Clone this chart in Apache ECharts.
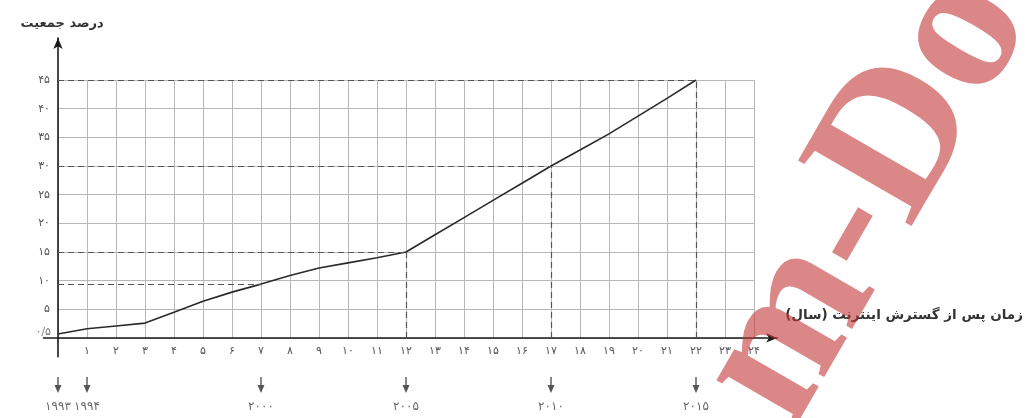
<!DOCTYPE html>
<html>
<head>
<meta charset="utf-8">
<script src="https://cdn.jsdelivr.net/npm/echarts@6/dist/echarts.min.js"></script>
<style>html,body{margin:0;padding:0;background:#fff}#c{width:1030px;height:418px}</style>
</head>
<body>
<div id="c"></div>
<script>
// ---- data ----
const xValues = [0,1,2,3,4,5,6,7,8,9,10,11,12,13,14,15,16,17,18,19,20,21,22];
const percentValues = [0.7,1.6,2.1,2.6,4.5,6.4,8.0,9.4,10.9,12.2,13.1,14.0,15.0,18.0,21.0,24.0,27.0,30.0,32.8,35.6,38.7,41.8,45.0];
const xTickLabels = ['۰','۱','۲','۳','۴','۵','۶','۷','۸','۹','۱۰','۱۱','۱۲','۱۳','۱۴','۱۵','۱۶','۱۷','۱۸','۱۹','۲۰','۲۱','۲۲','۲۳','۲۴'];
const yTickValues = [5,10,15,20,25,30,35,40,45];
const yTickLabels = ['۵','۱۰','۱۵','۲۰','۲۵','۳۰','۳۵','۴۰','۴۵'];
const startLabelValue = 0.5;
const startLabelText = '۰/۵';
// guide lines
const guideX = [7, 12, 17, 22];
const guideY = [9.4, 15, 30, 45];
const guideVertical = [false, true, true, true];
const markerX = [0, 1, 7, 12, 17, 22];
const markerYears = ['۱۹۹۳','۱۹۹۴','۲۰۰۰','۲۰۰۵','۲۰۱۰','۲۰۱۵'];
const xAxisTitle = 'زمان پس از گسترش اینترنت (سال)';
const yAxisTitle = 'درصد جمعیت';

const FONT = '"DejaVu Sans", sans-serif';
const chart = echarts.init(document.getElementById('c'), null, {renderer: 'canvas'});

const guideLines = [];
guideX.forEach((gx, i) => {
  guideLines.push([{coord: [0, guideY[i]]}, {coord: [gx, guideY[i]]}]);
  if (guideVertical[i]) guideLines.push([{coord: [gx, 0]}, {coord: [gx, guideY[i]]}]);
});

const yLabelMap = {};
yTickValues.forEach((v, i) => { yLabelMap[v] = yTickLabels[i]; });

const option = {
  backgroundColor: '#fff',
  animation: false,
  grid: [
    {left: 58, top: 80, width: 696, height: 258, outerBoundsMode: 'none'},
    {left: 43.5, top: 38, width: 733.7, height: 318.8, outerBoundsMode: 'none'},
    {left: 58, top: 370, width: 696, height: 30, outerBoundsMode: 'none'}
  ],
  xAxis: [
    {type: 'value', gridIndex: 0, min: 0, max: 24, interval: 1,
     axisLine: {show: false}, axisTick: {show: false},
     splitLine: {show: true, lineStyle: {color: '#b8b8b8', width: 1}},
     axisLabel: {show: true, margin: 8, color: '#555', fontSize: 11, fontFamily: FONT,
       formatter: v => xTickLabels[Math.round(v)] || ''}},
    {type: 'value', gridIndex: 1, min: -0.5, max: 24.8,
     axisLine: {show: true, onZero: true, symbol: ['none', 'arrow'], symbolSize: [7, 11],
       lineStyle: {color: '#1a1a1a', width: 1.6}},
     axisTick: {show: false}, axisLabel: {show: false}, splitLine: {show: false},
     name: xAxisTitle, nameLocation: 'end', nameGap: 8,
     nameTextStyle: {fontFamily: FONT, fontSize: 13.5, fontWeight: 'bold', color: '#333',
       verticalAlign: 'bottom', padding: [0, 0, 15, 0]}},
    {type: 'value', gridIndex: 2, min: 0, max: 24, show: false}
  ],
  yAxis: [
    {type: 'value', gridIndex: 0, min: 0, max: 45, interval: 5,
     axisLine: {show: false}, axisTick: {show: false},
     splitLine: {show: true, lineStyle: {color: '#b8b8b8', width: 1}},
     axisLabel: {show: true, margin: 8, color: '#555', fontSize: 11, fontFamily: FONT,
       formatter: v => yLabelMap[v] || ''}},
    {type: 'value', gridIndex: 1, min: -3.3, max: 52.3,
     axisLine: {show: true, onZero: true, symbol: ['none', 'arrow'], symbolSize: [7, 11],
       lineStyle: {color: '#1a1a1a', width: 1.6}},
     axisTick: {show: false}, axisLabel: {show: false}, splitLine: {show: false},
     name: yAxisTitle, nameLocation: 'end', nameGap: 8,
     nameTextStyle: {fontFamily: FONT, fontSize: 13, fontWeight: 'bold', color: '#333', padding: [0, 0, 0, 8]}},
    {type: 'value', gridIndex: 2, min: 0, max: 1, show: false}
  ],
  series: [
    {type: 'line', xAxisIndex: 0, yAxisIndex: 0, symbol: 'none', smooth: false,
     data: xValues.map((x, i) => [x, percentValues[i]]),
     lineStyle: {color: '#2a2a2a', width: 1.6},
     markLine: {silent: true, symbol: 'none', label: {show: false},
       lineStyle: {color: '#555', type: [6, 4], width: 1.2},
       data: guideLines}},
    {type: 'scatter', xAxisIndex: 0, yAxisIndex: 0, symbolSize: 0,
     data: [[0, startLabelValue]],
     label: {show: true, position: 'left', distance: 7, offset: [0, -3],
       formatter: () => startLabelText, color: '#555', fontSize: 11, fontFamily: FONT}},
    {type: 'scatter', xAxisIndex: 2, yAxisIndex: 2,
     symbol: 'path://M4,0 L6,0 L6,9 L10,9 L5,18 L0,9 L4,9 Z', symbolSize: [7, 16],
     itemStyle: {color: '#2a2a2a'},
     data: markerX.map(x => [x, 0.5]),
     label: {show: true, position: 'bottom', distance: 8, color: '#444', fontSize: 12, fontFamily: FONT,
       formatter: p => markerYears[p.dataIndex]}}
  ],
  graphic: [
    {type: 'text', x: 835, y: 455, rotation: Math.PI / 3, silent: true, z: 100,
     style: {text: 'm-Doc', font: 'bold 200px "Liberation Serif"', fill: 'rgba(195,55,55,0.6)',
       textAlign: 'left', textVerticalAlign: 'bottom'}}
  ]
};
chart.setOption(option);
</script>
</body>
</html>
